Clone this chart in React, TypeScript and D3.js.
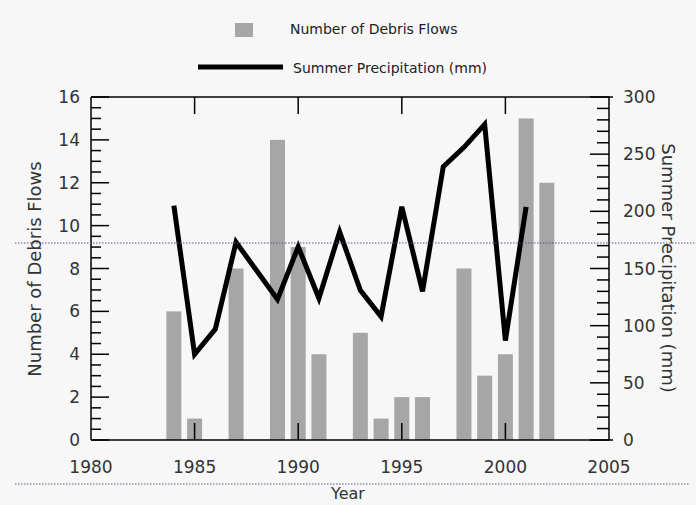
import React from "react";
import * as d3 from "d3";

// debris flows per year (bars, left axis)
const barYears = [1984, 1985, 1987, 1989, 1990, 1991, 1993, 1994, 1995, 1996, 1998, 1999, 2000, 2001, 2002];
const debrisFlows = [6, 1, 8, 14, 9, 4, 5, 1, 2, 2, 8, 3, 4, 15, 12];

// summer precipitation (line, right axis)
const precipYears = [1984, 1985, 1986, 1987, 1988, 1989, 1990, 1991, 1992, 1993, 1994, 1995, 1996, 1997, 1998, 1999, 2000, 2001];
const precipitation = [205, 75, 97, 173, 148, 123, 169, 124, 182, 131, 108, 204, 130, 239, 256, 276, 87, 204];

const yearTicks = [1980, 1985, 1990, 1995, 2000, 2005];
const leftTicks = [0, 2, 4, 6, 8, 10, 12, 14, 16];
const rightTicks = [0, 50, 100, 150, 200, 250, 300];

const W = 696;
const H = 505;
const font = "'DejaVu Sans', Verdana, sans-serif";

const App = () => {
  const x = d3.scaleLinear().domain([1980, 2005]).range([91, 609]);
  const yL = d3.scaleLinear().domain([0, 16]).range([440, 97]);
  const yR = d3.scaleLinear().domain([0, 300]).range([440, 97]);
  const barW = 15;

  const line = d3
    .line<number>()
    .x((d, i) => x(precipYears[i]))
    .y((d) => yR(d));

  const leftMinor = d3.range(0, 16.01, 0.5).filter((v) => v % 2 !== 0);
  const rightMinor = d3.range(0, 300.1, 10).filter((v) => v % 50 !== 0);

  const [x0, x1] = x.range();
  const [yb, yt] = yL.range();

  return (
    <svg width={W} height={H} style={{ position: "absolute", left: 0, top: 0, background: "#f7f7f7" }}>
      {/* legend */}
      <rect x={235} y={23} width={18} height={14} fill="#a6a6a6" />
      <text x={290} y={34} fontFamily={font} fontSize={14} fill="#222">Number of Debris Flows</text>
      <line x1={198} x2={283} y1={67} y2={67} stroke="#000" strokeWidth={5} />
      <text x={293} y={73} fontFamily={font} fontSize={14} fill="#222">Summer Precipitation (mm)</text>

      {/* bars */}
      {barYears.map((yr, i) => (
        <rect key={yr} x={x(yr) - barW / 2} y={yL(debrisFlows[i])} width={barW} height={yb - yL(debrisFlows[i])} fill="#a6a6a6" />
      ))}

      {/* frame */}
      <line x1={x0} x2={x1} y1={yt} y2={yt} stroke="#000" strokeWidth={1.5} />
      <line x1={x0} x2={x1} y1={yb} y2={yb} stroke="#000" strokeWidth={1.5} />
      <line x1={x0} x2={x0} y1={yt} y2={yb} stroke="#000" strokeWidth={1.5} />
      <line x1={x1} x2={x1} y1={yt} y2={yb} stroke="#000" strokeWidth={1.5} />
      <line x1={x1} x2={x1 + 4} y1={yt} y2={yt} stroke="#000" strokeWidth={1.5} />
      <line x1={x1} x2={x1 + 4} y1={yb} y2={yb} stroke="#000" strokeWidth={1.5} />

      {/* year ticks, top and bottom, pointing in */}
      {yearTicks.slice(1, -1).map((t) => (
        <g key={t}>
          <line x1={x(t)} x2={x(t)} y1={yt} y2={yt + 17} stroke="#000" strokeWidth={1.5} />
          <line x1={x(t)} x2={x(t)} y1={yb} y2={yb - 17} stroke="#000" strokeWidth={1.5} />
        </g>
      ))}
      {yearTicks.map((t) => (
        <text key={t} x={x(t)} y={473} textAnchor="middle" fontFamily={font} fontSize={17} fill="#333">{t}</text>
      ))}

      {/* left axis */}
      {leftTicks.map((t) => (
        <g key={t}>
          <line x1={x0} x2={x0 + 18} y1={yL(t)} y2={yL(t)} stroke="#000" strokeWidth={1.5} />
          <text x={80} y={yL(t) + 6} textAnchor="end" fontFamily={font} fontSize={17} fill="#333">{t}</text>
        </g>
      ))}
      {leftMinor.map((t) => (
        <line key={t} x1={x0} x2={x0 + 10} y1={yL(t)} y2={yL(t)} stroke="#000" strokeWidth={1.5} />
      ))}

      {/* right axis */}
      {rightTicks.map((t) => (
        <g key={t}>
          <line x1={x1} x2={x1 - 19} y1={yR(t)} y2={yR(t)} stroke="#000" strokeWidth={1.5} />
          <text x={623} y={yR(t) + 6} textAnchor="start" fontFamily={font} fontSize={17} fill="#333">{t}</text>
        </g>
      ))}
      {rightMinor.map((t) => (
        <line key={t} x1={x1} x2={x1 - 12} y1={yR(t)} y2={yR(t)} stroke="#000" strokeWidth={1.5} />
      ))}

      {/* precipitation line */}
      <path d={line(precipitation) || ""} fill="none" stroke="#000" strokeWidth={5} strokeLinejoin="miter" />

      {/* dotted guide lines */}
      <line x1={15} x2={W} y1={243} y2={243} stroke="#6a4f80" strokeWidth={1.2} strokeDasharray="1.5,1.5" />
      <line x1={15} x2={690} y1={484} y2={484} stroke="#6a4f80" strokeWidth={1.2} strokeDasharray="1.5,1.5" />

      {/* axis titles */}
      <text transform="translate(41,269) rotate(-90)" textAnchor="middle" fontFamily={font} fontSize={18} fill="#333">Number of Debris Flows</text>
      <text transform="translate(662,268) rotate(90)" textAnchor="middle" fontFamily={font} fontSize={18} fill="#333">Summer Precipitation (mm)</text>
      <text x={348} y={499} textAnchor="middle" fontFamily={font} fontSize={16} fill="#333">Year</text>
    </svg>
  );
};

export default App;
